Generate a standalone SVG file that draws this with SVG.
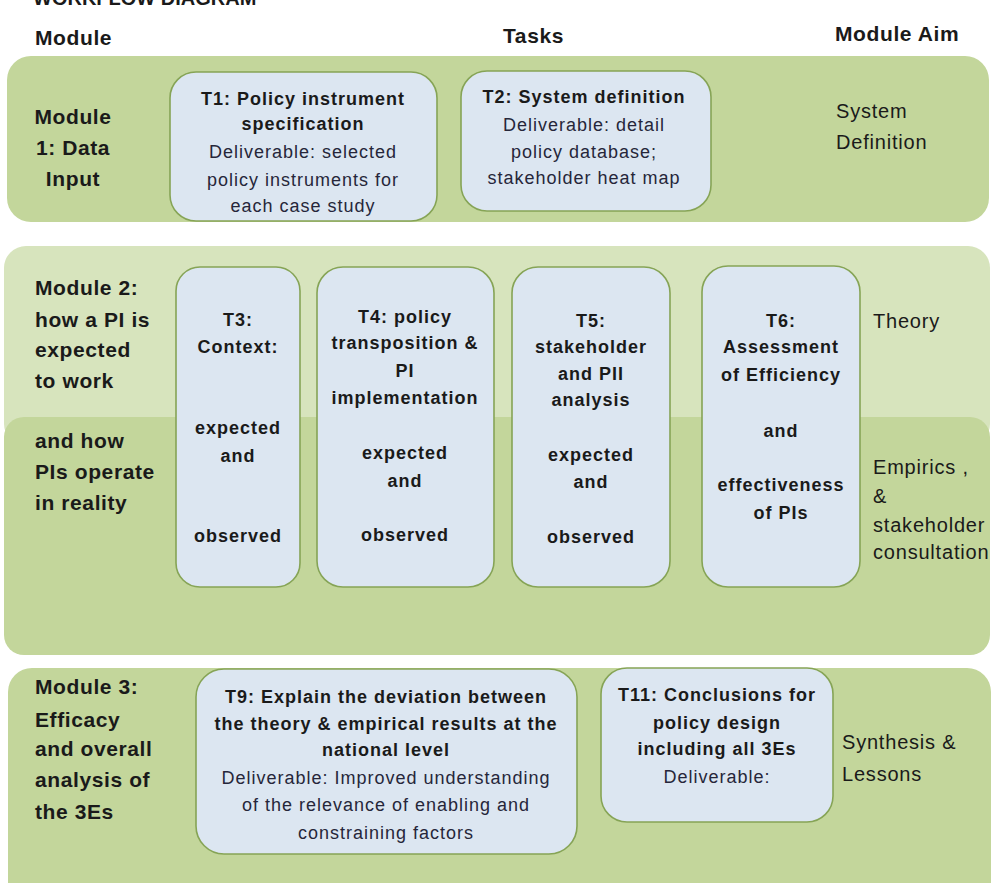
<svg xmlns="http://www.w3.org/2000/svg" width="991" height="883" viewBox="0 0 991 883">
<style>
text{font-family:"Liberation Sans",Arial,sans-serif;fill:#1a1a1a}
.hd{font-size:21px;font-weight:bold;letter-spacing:0.6px}
.ml{font-size:21px;font-weight:bold;letter-spacing:0.6px}
.tb{font-size:18px;font-weight:bold;letter-spacing:1px;text-anchor:middle}
.tn{font-size:18px;letter-spacing:1px;text-anchor:middle;fill:#26263a}
.aim{font-size:20px;letter-spacing:0.8px}
.band{fill:#c3d69b}
.bandl{fill:#d7e4bd}
.task{fill:#dce6f1;stroke:#86a456;stroke-width:1.6}
</style>
<rect width="991" height="883" fill="#ffffff"/>
<text x="33" y="5" style="font-size:20px;font-weight:bold">WORKFLOW DIAGRAM</text>
<g id="headers">
<text class="hd" x="35" y="45">Module</text>
<text class="hd" x="503" y="43">Tasks</text>
<text class="hd" x="835" y="41">Module Aim</text>
</g>
<!-- bands -->
<rect class="band" x="7" y="56" width="982" height="166" rx="24"/>
<rect class="bandl" x="4" y="246" width="986" height="200" rx="22"/>
<rect class="band" x="4" y="417" width="986" height="238" rx="20"/>
<rect class="band" x="8" y="668" width="983" height="240" rx="24"/>
<g id="connectors"/>
<g id="module1">
<text class="ml" x="73" y="124" text-anchor="middle">Module</text>
<text class="ml" x="73" y="155" text-anchor="middle">1: Data</text>
<text class="ml" x="73" y="186" text-anchor="middle">Input</text>
</g>
<g id="T1">
<rect class="task" x="170" y="72" width="267" height="149" rx="26"/>
<text class="tb" x="303" y="105">T1: Policy instrument</text>
<text class="tb" x="303" y="130">specification</text>
<text class="tn" x="303" y="158">Deliverable: selected</text>
<text class="tn" x="303" y="186">policy instruments for</text>
<text class="tn" x="303" y="212">each case study</text>
</g>
<g id="T2">
<rect class="task" x="461" y="71" width="250" height="140" rx="26"/>
<text class="tb" x="584" y="103">T2: System definition</text>
<text class="tn" x="584" y="131">Deliverable: detail</text>
<text class="tn" x="584" y="158">policy database;</text>
<text class="tn" x="584" y="184">stakeholder heat map</text>
</g>
<g id="aim1">
<text class="aim" x="836" y="118">System</text>
<text class="aim" x="836" y="149">Definition</text>
</g>
<g id="module2">
<text class="ml" x="35" y="295">Module 2:</text>
<text class="ml" x="35" y="327">how a PI is</text>
<text class="ml" x="35" y="357">expected</text>
<text class="ml" x="35" y="388">to work</text>
<text class="ml" x="35" y="448">and how</text>
<text class="ml" x="35" y="479">PIs operate</text>
<text class="ml" x="35" y="510">in reality</text>
</g>
<g id="T3">
<rect class="task" x="176" y="267" width="124" height="320" rx="24"/>
<text class="tb" x="238" y="326">T3:</text>
<text class="tb" x="238" y="353">Context:</text>
<text class="tb" x="238" y="434">expected</text>
<text class="tb" x="238" y="462">and</text>
<text class="tb" x="238" y="542">observed</text>
</g>
<g id="T4">
<rect class="task" x="317" y="267" width="177" height="320" rx="26"/>
<text class="tb" x="405" y="323">T4: policy</text>
<text class="tb" x="405" y="349">transposition &amp;</text>
<text class="tb" x="405" y="377">PI</text>
<text class="tb" x="405" y="404">implementation</text>
<text class="tb" x="405" y="459">expected</text>
<text class="tb" x="405" y="487">and</text>
<text class="tb" x="405" y="541">observed</text>
</g>
<g id="T5">
<rect class="task" x="512" y="267" width="158" height="320" rx="26"/>
<text class="tb" x="591" y="327">T5:</text>
<text class="tb" x="591" y="353">stakeholder</text>
<text class="tb" x="591" y="380">and PII</text>
<text class="tb" x="591" y="406">analysis</text>
<text class="tb" x="591" y="461">expected</text>
<text class="tb" x="591" y="488">and</text>
<text class="tb" x="591" y="543">observed</text>
</g>
<g id="T6">
<rect class="task" x="702" y="266" width="158" height="321" rx="26"/>
<text class="tb" x="781" y="327">T6:</text>
<text class="tb" x="781" y="353">Assessment</text>
<text class="tb" x="781" y="381">of Efficiency</text>
<text class="tb" x="781" y="437">and</text>
<text class="tb" x="781" y="491">effectiveness</text>
<text class="tb" x="781" y="519">of PIs</text>
</g>
<g id="aim2">
<text class="aim" x="873" y="328">Theory</text>
<text class="aim" x="873" y="474">Empirics ,</text>
<text class="aim" x="873" y="503">&amp;</text>
<text class="aim" x="873" y="532">stakeholder</text>
<text class="aim" x="873" y="559">consultation</text>
</g>
<g id="module3">
<text class="ml" x="35" y="694">Module 3:</text>
<text class="ml" x="35" y="727">Efficacy</text>
<text class="ml" x="35" y="756">and overall</text>
<text class="ml" x="35" y="787">analysis of</text>
<text class="ml" x="35" y="819">the 3Es</text>
</g>
<g id="T9">
<rect class="task" x="196" y="669" width="381" height="185" rx="28"/>
<text class="tb" x="386" y="703">T9: Explain the deviation between</text>
<text class="tb" x="386" y="730">the theory &amp; empirical results at the</text>
<text class="tb" x="386" y="756">national level</text>
<text class="tn" x="386" y="784">Deliverable: Improved understanding</text>
<text class="tn" x="386" y="811">of the relevance of enabling and</text>
<text class="tn" x="386" y="839">constraining factors</text>
</g>
<g id="T11">
<rect class="task" x="601" y="668" width="232" height="154" rx="26"/>
<text class="tb" x="717" y="701">T11: Conclusions for</text>
<text class="tb" x="717" y="729">policy design</text>
<text class="tb" x="717" y="755">including all 3Es</text>
<text class="tn" x="717" y="783">Deliverable:</text>
</g>
<g id="aim3">
<text class="aim" x="842" y="749">Synthesis &amp;</text>
<text class="aim" x="842" y="781">Lessons</text>
</g>
</svg>
